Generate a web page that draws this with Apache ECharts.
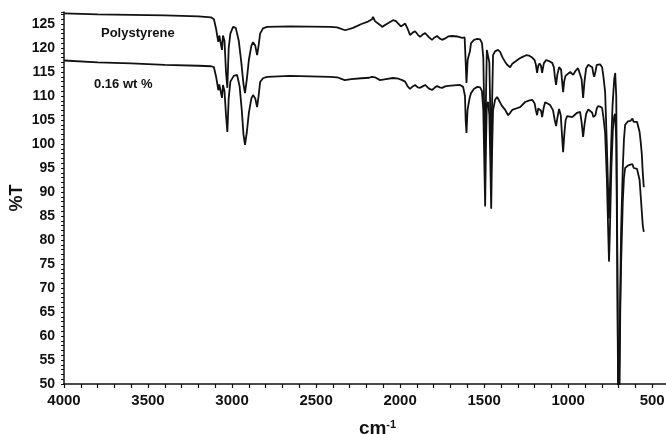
<!DOCTYPE html>
<html>
<head>
<meta charset="utf-8">
<script src="https://cdn.jsdelivr.net/npm/echarts@6/dist/echarts.min.js"></script>
<style>
  html, body { margin: 0; padding: 0; background: #fff; }
  #chart { width: 666px; height: 434px; }
</style>
</head>
<body>
<div id="chart"></div>
<script>
// wavenumber (cm-1) and %T for the pure polystyrene trace
var wnPS = [4000,3800,3600,3400,3200,3125,3108,3095,3088,3082,3076,3068,3060,3054,3045,3036,3028,3020,3010,2994,2978,2960,2945,2932,2923,2912,2900,2885,2875,2862,2851,2842,2833,2816,2792,2655,2417,2375,2327,2280,2230,2191,2167,2161,2150,2119,2107,2070,2042,2025,1995,1988,1970,1955,1941,1925,1911,1895,1881,1866,1851,1830,1810,1795,1780,1765,1750,1732,1714,1690,1661,1631,1616,1611,1605,1598,1591,1585,1578,1560,1540,1524,1513,1505,1500,1494,1489,1484,1476,1469,1463,1458,1453,1447,1435,1418,1405,1390,1375,1363,1345,1333,1310,1290,1274,1250,1232,1214,1200,1192,1185,1178,1170,1162,1155,1145,1131,1110,1095,1085,1079,1072,1064,1054,1042,1036,1030,1024,1016,1006,988,970,955,941,930,920,911,903,893,880,869,857,850,845,838,830,822,810,798,790,780,770,762,758,752,744,736,726,720,714,708,702,696,690,685,675,668,661,645,630,618,610,600,590,584,575,568,562,556,550];
var tPS = [127.2,127.0,126.9,126.8,126.6,126.4,126.0,124.0,122.5,121.3,122.6,122.4,119.6,122.6,121.5,115,111.7,120,123.0,124.4,124.2,121.5,117,112.5,110.6,113.5,117.5,120.5,121.2,120.5,118.5,120.5,123.0,124.1,124.4,124.5,124.4,124.3,123.7,124.2,125.0,125.5,126.0,126.5,125.6,124.8,124.4,125.2,125.8,125.6,124.5,124.4,125.1,124.0,122.7,123.2,123.5,122.8,122.3,122.8,123.1,122.3,121.7,122.2,122.5,122.0,121.7,122.0,122.4,122.5,122.4,122.1,122.2,118,112.7,117.5,118.5,119.2,121.0,121.7,121.9,121.8,121.0,118,108,96.5,110,119.6,119.6,117,106,94.5,108,118.5,119.3,119.6,119.2,118,117.1,116.5,116.0,116.7,117.3,117.8,118.1,118.5,118.4,118.0,117.5,116.5,114.8,116.3,116.8,116.3,114.8,116.8,117.5,117.2,116.9,116,114,112.3,114.5,116.0,115.5,113,110.8,113,114.2,114.4,115.0,114.4,115.3,115.8,115.6,113.5,109.6,113,115.8,116.5,116.7,116.0,114.6,114.0,115,116.5,116.7,116.6,116.0,114,110.8,100,90,84.5,90,100,108,113.5,114.8,110,80,47,50,70,82,95,101,104.0,104.7,104.8,105.3,104.6,105.0,104.6,104.4,102.5,100.3,98,94,91];

// wavenumber (cm-1) and %T for the 0.16 wt % trace
var wnMix = [4000,3800,3600,3400,3200,3125,3108,3095,3088,3082,3076,3068,3060,3054,3045,3036,3028,3020,3010,2990,2970,2955,2942,2932,2923,2912,2900,2885,2875,2862,2851,2842,2833,2816,2792,2655,2417,2375,2330,2290,2230,2185,2167,2161,2150,2119,2085,2042,2010,1988,1970,1955,1941,1925,1911,1895,1881,1866,1851,1830,1810,1795,1780,1765,1750,1732,1714,1680,1643,1625,1614,1610,1605,1599,1592,1585,1578,1560,1540,1524,1513,1505,1500,1494,1489,1484,1476,1469,1463,1458,1453,1447,1435,1423,1410,1395,1375,1357,1345,1333,1310,1286,1256,1230,1214,1200,1192,1185,1178,1170,1162,1155,1146,1137,1120,1107,1090,1080,1072,1064,1054,1044,1037,1030,1023,1015,1006,990,976,960,947,929,920,911,903,893,880,869,857,850,845,838,830,822,810,798,790,780,770,762,757,751,743,734,726,720,714,708,702,696,690,685,675,668,661,645,630,618,610,600,590,584,575,568,562,556,550];
var tMix = [117.4,117.0,116.8,116.5,116.3,116.2,116.0,114,112.6,111.2,112.4,112.2,109.6,112.3,111,106,102.5,109.5,113,114.2,114.4,112,107,102,99.8,102.5,106.5,109.5,110.2,109.5,107.7,110,112.9,113.7,114.0,114.2,114.0,113.9,113.3,113.5,113.7,113.8,114.0,114.3,113.9,113.3,113.5,113.75,113.6,113.3,113.0,112.0,111.5,112.0,112.3,111.8,111.7,112.0,112.3,111.6,111.25,111.7,112.1,111.8,111.7,112.0,112.1,112.2,112.3,111.9,110,105,102.3,107,108.5,109.8,110.6,111.5,111.9,111.8,111,107,98,87,100,108.3,108.75,106,96,86.5,98,107,109.2,109.8,109,108,107.1,106.0,106.5,107.1,107.4,107.7,108.75,109.1,109.2,108.5,107,106.0,107.4,107.7,107,105.6,107.5,108.7,108.4,108.1,107,105,103.75,105.5,107.3,106,102,98.3,102,105,105.8,105.7,105.6,106.1,106.5,106.7,104.5,101.5,104,106.3,107.2,107.5,106.5,105.6,105.2,106,107.4,107.9,107.8,107.5,105.5,102.3,93,82,75.5,83,95,103,105.8,106.3,101,75,44,46,65,75,88,93,95.0,95.5,95.7,95.8,95.0,95.4,94.8,94.6,92.5,89,86,83,81.7];

var xMin = 400, xMax = 4000, xStep = 100, xLabelStep = 500;
var yMin = 50, yMax = 127.5, yStep = 1, yLabelStep = 5;
var traceNames = ['Polystyrene', '0.16 wt %'];

function zip(xs, ys) {
    return xs.map(function (x, i) { return [x, ys[i]]; });
}

var chart = echarts.init(document.getElementById('chart'));
var font = '"Liberation Sans", Arial, sans-serif';
var ink = '#111';

chart.setOption({
    animation: false,
    backgroundColor: '#fff',
    grid: { left: 64, top: 12, width: 605, height: 372, outerBoundsMode: 'none' },
    xAxis: {
        type: 'value',
        inverse: true,
        min: xMin,
        max: xMax,
        interval: xStep,
        name: 'cm{s|-1}',
        nameLocation: 'middle',
        nameGap: 35,
        nameMoveOverlap: false,
        nameTextStyle: {
            fontFamily: font, fontSize: 19, fontWeight: 'bold', color: ink,
            padding: [0, 0, 0, 22],
            rich: { s: { fontFamily: font, fontSize: 11, fontWeight: 'bold', color: ink, verticalAlign: 'top' } }
        },
        axisLine: { lineStyle: { color: ink, width: 1.5 } },
        axisTick: { length: 4, lineStyle: { color: ink, width: 1.2 } },
        axisLabel: {
            margin: 9,
            fontFamily: font, fontSize: 15, fontWeight: 'bold', color: ink,
            formatter: function (v) { return v % xLabelStep === 0 ? String(v) : ''; }
        },
        splitLine: { show: false }
    },
    yAxis: {
        type: 'value',
        min: yMin,
        max: yMax,
        interval: yStep,
        name: '%T',
        nameLocation: 'middle',
        nameGap: 38,
        nameMoveOverlap: false,
        nameTextStyle: { fontFamily: font, fontSize: 18, fontWeight: 'bold', color: ink },
        axisLine: { show: true, lineStyle: { color: ink, width: 1.5 } },
        axisTick: { show: true, length: 3, lineStyle: { color: ink, width: 1 } },
        axisLabel: {
            margin: 9,
            fontFamily: font, fontSize: 14, fontWeight: 'bold', color: ink,
            formatter: function (v) { return v % yLabelStep === 0 ? String(v) : ''; }
        },
        splitLine: { show: false }
    },
    graphic: [
        { type: 'text', left: 101, top: 27, style: { text: traceNames[0], font: 'bold 13px ' + font, fill: ink } },
        { type: 'text', left: 94, top: 78, style: { text: traceNames[1], font: 'bold 13px ' + font, fill: ink } }
    ],
    series: [
        {
            name: traceNames[0], type: 'line', showSymbol: false, clip: true,
            lineStyle: { color: ink, width: 1.8 },
            data: zip(wnPS, tPS)
        },
        {
            name: traceNames[1], type: 'line', showSymbol: false, clip: true,
            lineStyle: { color: ink, width: 1.8 },
            data: zip(wnMix, tMix)
        }
    ]
});
</script>
</body>
</html>
